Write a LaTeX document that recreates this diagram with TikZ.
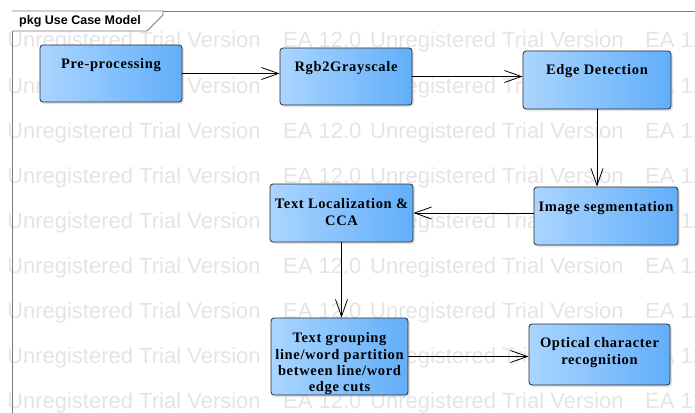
\documentclass[tikz,border=0pt]{standalone}
\usepackage{fontspec}
\setmainfont{Liberation Serif}
\newfontfamily\wmfont{Liberation Sans}
\newfontfamily\stagefont[LetterSpace=4.5]{Liberation Serif}
\usetikzlibrary{arrows.meta, positioning, shadows}
\definecolor{boxleft}{HTML}{AAD5FF}
\definecolor{boxright}{HTML}{62AEFA}
\definecolor{boxline}{HTML}{2B2B2B}
\definecolor{framegray}{HTML}{7A7A7A}
\definecolor{wmgray}{HTML}{E4E4E4}
\tikzset{
  stage/.style={draw=boxline, line width=0.8pt, rounded corners=3pt,
    left color=boxleft, right color=boxright, inner sep=0pt,
    drop shadow={shadow xshift=2pt, shadow yshift=-2pt, fill=black!22}},
  stagetext/.style={font=\stagefont\fontsize{14.5}{16.3}\selectfont\bfseries,
    align=center, inner sep=0pt},
  flow/.style={-{Straight Barb[length=17pt,width=12pt]}, line width=0.8pt},
  wmark/.style={font=\wmfont\fontsize{22}{22}\selectfont, text=wmgray,
    inner sep=0pt, anchor=base west}
}
\begin{document}
\begin{tikzpicture}[x=1pt, y=-1pt]
  \useasboundingbox (0,0) rectangle (695,412);
  % trial watermark behind everything
  \begin{scope}
    \clip (9.5,0) rectangle (695,412);
    \foreach \r in {0,...,8}
      \foreach \x/\t [count=\c] in {7/Unregistered Trial Version, 283/EA 12.0,
                                    370/Unregistered Trial Version, 645/EA 12.0}
        \node[wmark] (wm-\r-\c) at (\x, 48+45*\r) {\t};
  \end{scope}
  % package frame and tab
  \draw[framegray, line width=0.9pt] (12,420) -- (12,11) -- (700,11);
  \draw[framegray, line width=0.9pt, fill=white]
    (12,11) -- (163,11) -- (163,15) -- (147,31) -- (12,31);
  \node[font=\wmfont\bfseries\fontsize{12.5}{12.5}\selectfont,
        anchor=base west, inner sep=0pt] (pkg) at (19,25) {pkg Use Case Model};
  % stages
  \node[stage, minimum width=142pt, minimum height=57pt] (pre) at (111,73.5) {};
  \node[stagetext, below=14pt of pre.north] (pre-t) {Pre-processing};
  \node[stage, minimum width=132pt, minimum height=57pt] (rgb) at (346,76.5) {};
  \node[stagetext, below=14pt of rgb.north] (rgb-t) {Rgb2Grayscale};
  \node[stage, minimum width=148pt, minimum height=58pt] (edge) at (597,80) {};
  \node[stagetext, below=14pt of edge.north] (edge-t) {Edge Detection};
  \node[stage, minimum width=144pt, minimum height=58pt] (seg) at (606,216) {};
  \node[stagetext, below=15pt of seg.north] (seg-t) {Image segmentation};
  \node[stage, minimum width=143pt, minimum height=58pt] (loc) at (341.5,213) {};
  \node[stagetext, below=15pt of loc.north] (loc-t) {Text Localization \&\\CCA};
  \node[stage, minimum width=137pt, minimum height=77pt] (grp) at (339.5,356.5) {};
  \node[stagetext, below=15pt of grp.north] (grp-t)
    {Text grouping\\line/word partition\\between line/word\\edge cuts};
  \node[stage, minimum width=141pt, minimum height=61pt] (ocr) at (599.5,354.5) {};
  \node[stagetext, below=14pt of ocr.north] (ocr-t) {Optical character\\recognition};
  % flow
  \draw[flow] (pre.east) -- (pre.east -| rgb.west);
  \draw[flow] (rgb.east) -- (rgb.east -| edge.west);
  \draw[flow] (edge.south) -- (edge.south |- seg.north);
  \draw[flow] (seg.west |- loc.east) -- (loc.east);
  \draw[flow] (loc.south) -- (loc.south |- grp.north);
  \draw[flow] (grp.east) -- (grp.east -| ocr.west);
\end{tikzpicture}
\end{document}
